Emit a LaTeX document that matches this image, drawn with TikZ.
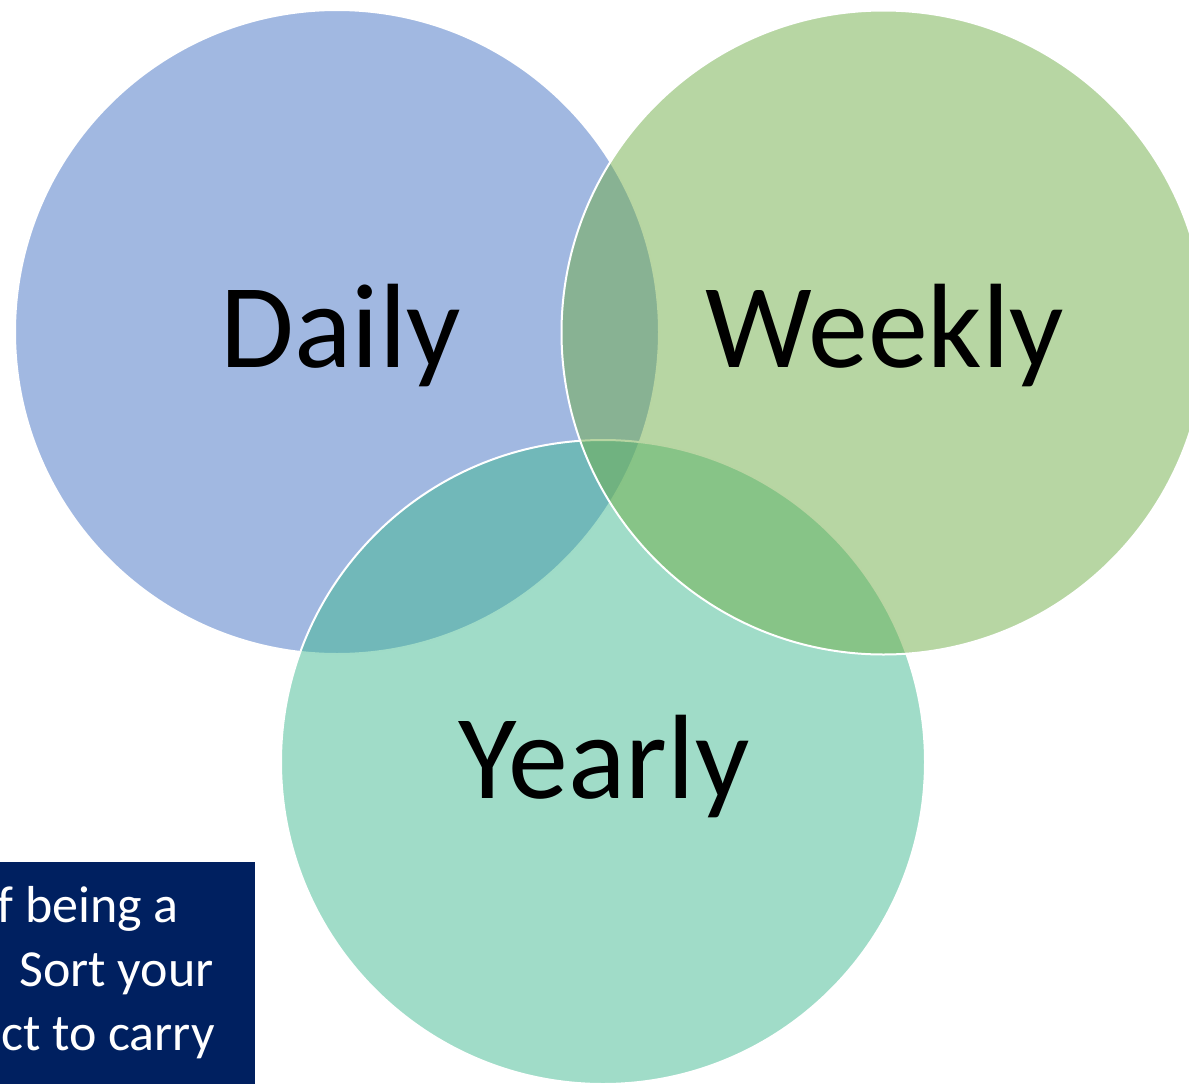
\documentclass[tikz,border=0pt]{standalone}
\usepackage{fontspec}
\setmainfont{Carlito}
\definecolor{cblue}{HTML}{4472C4}
\definecolor{cgreen}{HTML}{70AD47}
\definecolor{cteal}{RGB}{65,185,145}
\definecolor{navy}{HTML}{002060}
\begin{document}
\begin{tikzpicture}[x=1pt,y=-1pt,
  venn/.style={circle, minimum size=644pt, inner sep=0pt, outer sep=0pt, draw=white, line width=2pt, fill opacity=0.5},
  biglabel/.style={anchor=base, inner sep=0pt, text=black, font=\fontsize{120}{144}\selectfont},
  boxtext/.style={anchor=base east, inner sep=0pt, text=white, font=\fontsize{52}{64}\selectfont}]
\useasboundingbox (0,0) rectangle (1189,1084);
\node[venn, fill=cblue] (daily) at (337,332) {};
\node[venn, fill=cteal] (yearly) at (603,762) {};
\node[venn, fill=cgreen] (weekly) at (883.5,332.5) {};
\node[biglabel] (ldaily) at (341,367) {Daily};
\node[biglabel] (lweekly) at (885,367) {Weekly};
\node[biglabel] (lyearly) at (604,798) {Yearly};
\node[fill=navy, inner sep=0pt, outer sep=0pt, minimum width=255pt, minimum height=222pt, anchor=north west] (box) at (0,862) {};
\begin{scope}
\clip (box.north west) rectangle (box.south east);
\node[boxtext] (t1) at (179,922) {f being a};
\node[boxtext] (t2) at (214,986) {Sort your};
\node[boxtext] (t3) at (215,1050) {ct to carry};
\end{scope}
\end{tikzpicture}
\end{document}
